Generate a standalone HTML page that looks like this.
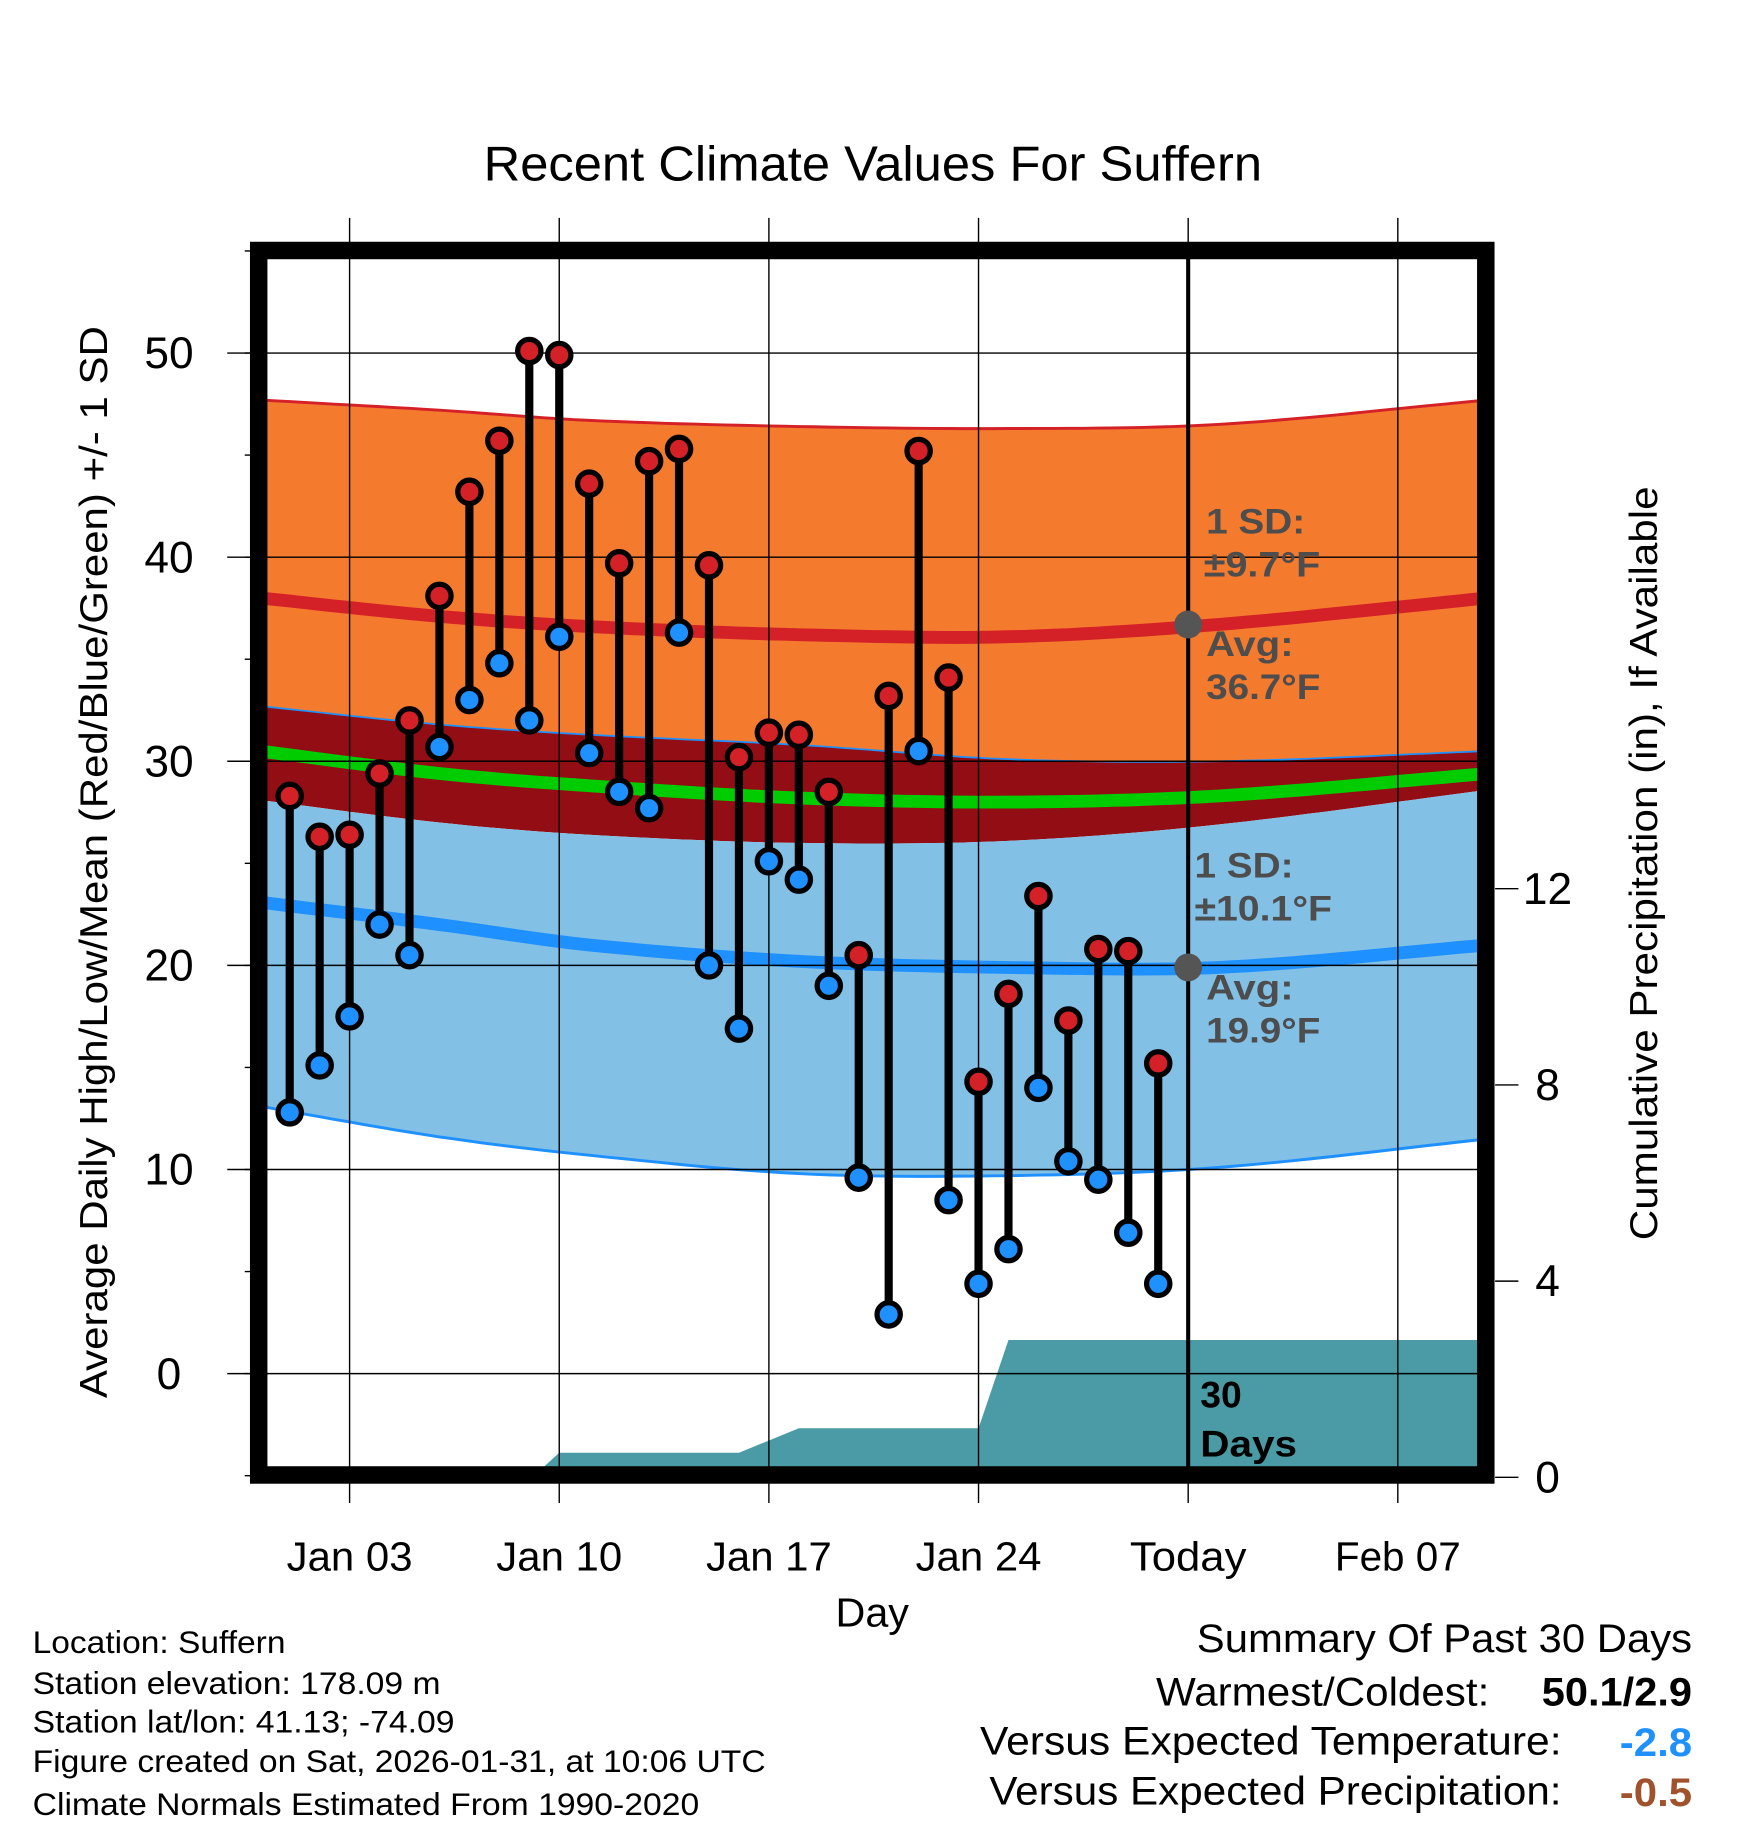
<!DOCTYPE html>
<html><head><meta charset="utf-8"><style>
html,body{margin:0;padding:0;background:#fff;}
svg{display:block;font-family:"Liberation Sans",sans-serif;}
</style></head><body>
<svg id="chart" width="1748" height="1828" viewBox="0 0 1500 1569" preserveAspectRatio="none" xmlns="http://www.w3.org/2000/svg">
<g id="plot"></g>
</svg>
<script>
const days = [0,1,2,3,4,5,6,7,8,9,10,11,12,13,14,15,16,17,18,19,20,21,22,23,24,25,26,27,28,29];
const highs = [28.3,26.3,26.4,29.4,32.0,38.1,43.2,45.7,50.1,49.9,43.6,39.7,44.7,45.3,39.6,30.2,31.4,31.3,28.5,20.5,33.2,45.2,34.1,14.3,18.6,23.4,17.3,20.8,20.7,15.2];
const lows = [12.8,15.1,17.5,22.0,20.5,30.7,33.0,34.8,32.0,36.1,30.4,28.5,27.7,36.3,20.0,16.9,25.1,24.2,19.0,9.6,2.9,30.5,8.5,4.4,6.1,14.0,10.4,9.5,6.9,4.4];
const normDays = [-1,5,10,17,24,31,40];
const highPlus = [47.7,47.2,46.7,46.4,46.3,46.5,47.7];
const highMean = [38.0,37.1,36.6,36.2,36.1,36.7,38.0];
const highMinus = [32.7,31.8,31.3,30.8,30.1,30.0,30.5];
const meanLine = [30.5,29.4,28.8,28.2,28.0,28.3,29.4];
const lowPlus = [28.1,27.0,26.4,26.0,26.1,26.9,28.6];
const lowMean = [23.1,22.0,21.0,20.2,19.9,19.9,21.0];
const lowMinus = [13.1,11.6,10.7,9.8,9.7,10.1,11.5];
const precipDays = [-1,8.1,9,15,17,23,24,40];
const precipVals = [0,0,0.5,0.5,1.0,1.0,2.8,2.8];
const xTickDays = [2,9,16,23,30,37];
const xTickLabels = ["Jan 03","Jan 10","Jan 17","Jan 24","Today","Feb 07"];
const yTicks = [0,10,20,30,40,50];
const precipTicks = [0,4,8,12];

const NS="http://www.w3.org/2000/svg";
const X = d => 248.6 + d*25.7;
const Y = v => 1179 - v*17.52;
const PY = p => 1268 - p*42.1;
const g = document.getElementById('plot');
function el(tag, attrs, parent){const e=document.createElementNS(NS,tag);for(const k in attrs)e.setAttribute(k,attrs[k]);(parent||g).appendChild(e);return e;}
function txt(s, attrs){const e=el('text',attrs);e.textContent=s;return e;}

// Catmull-Rom (non-uniform knots via slopes) interpolation
function interp(arr, d){
  const n=normDays.length;
  function slope(i){
    if(i===0) return (arr[1]-arr[0])/(normDays[1]-normDays[0]);
    if(i===n-1) return (arr[n-1]-arr[n-2])/(normDays[n-1]-normDays[n-2]);
    return (arr[i+1]-arr[i-1])/(normDays[i+1]-normDays[i-1]);
  }
  for(let i=0;i<n-1;i++){
    if(d>=normDays[i] && d<=normDays[i+1]){
      const h=normDays[i+1]-normDays[i], t=(d-normDays[i])/h;
      const t2=t*t,t3=t2*t;
      return (2*t3-3*t2+1)*arr[i]+(t3-2*t2+t)*h*slope(i)+(-2*t3+3*t2)*arr[i+1]+(t3-t2)*h*slope(i+1);
    }
  }
  return arr[n-1];
}
const sampleDays=[];for(let d=-1;d<=40.001;d+=0.5)sampleDays.push(d);

const defs=el('defs',{});
const cp=el('clipPath',{id:'clip'},defs);el('rect',{x:222,y:215,width:1053,height:1051},cp);
const inner=el('g',{'clip-path':'url(#clip)'});

function line(arr){return sampleDays.map(d=>X(d).toFixed(1)+','+Y(interp(arr,d)).toFixed(1)).join(' ');}
function band(a,b){return line(a)+' '+sampleDays.slice().reverse().map(d=>X(d).toFixed(1)+','+Y(interp(b,d)).toFixed(1)).join(' ');}

let e;
e=el('polygon',{points:band(highPlus,highMinus),fill:'#F47A2E'},inner);


e=el('polygon',{points:band(highMinus,lowPlus),fill:'#920D14'},inner);


e=el('polygon',{points:band(lowPlus,lowMinus),fill:'#82C0E6'},inner);


el('polyline',{points:line(highPlus),fill:'none',stroke:'#D42027','stroke-width':2.5},inner);
el('polyline',{points:line(highMinus),fill:'none',stroke:'#1E90FF','stroke-width':1.5},inner);
el('polyline',{points:line(lowMinus),fill:'none',stroke:'#1E90FF','stroke-width':2.5},inner);
e=el('polyline',{points:line(highMean),fill:'none',stroke:'#D42027','stroke-width':11},inner);


e=el('polyline',{points:line(meanLine),fill:'none',stroke:'#00CC00','stroke-width':11},inner);


e=el('polyline',{points:line(lowMean),fill:'none',stroke:'#1E90FF','stroke-width':11},inner);



let pts=precipDays.map((d,i)=>X(d)+','+PY(precipVals[i])).join(' ');
pts+=' '+X(40)+','+PY(0)+' '+X(-1)+','+PY(0);
e=el('polygon',{points:pts,fill:'#4A9BA5'},inner);



function T(s,a,name,len){const t=txt(s,a);if(len){t.setAttribute('textLength',len);t.setAttribute('lengthAdjust','spacingAndGlyphs');}return t;}

yTicks.forEach(v=>{el('line',{x1:195,x2:1275,y1:Y(v),y2:Y(v),stroke:'#000','stroke-width':1.2});
 T(String(v),{x:145,y:Y(v)+13,'font-size':38,'text-anchor':'middle'},'y-tick-label');});
for(let v=-5;v<=55;v+=5){el('line',{x1:210,x2:222,y1:Y(v),y2:Y(v),stroke:'#000','stroke-width':1.2});}
xTickDays.forEach((d,i)=>{el('line',{x1:X(d),x2:X(d),y1:187,y2:1290,stroke:'#000','stroke-width':1.2});
 T(xTickLabels[i],{x:X(d),y:1348,'font-size':35,'text-anchor':'middle'},'x-tick-label',xTickLabels[i]==="Today"?100:108);});
precipTicks.forEach(p=>{el('line',{x1:1283,x2:1303,y1:PY(p),y2:PY(p),stroke:'#000','stroke-width':1.2});
 T(String(p),{x:1328,y:PY(p)+13,'font-size':38,'text-anchor':'middle'},'precip-tick-label');});

e=el('line',{x1:X(30),x2:X(30),y1:222,y2:1262,stroke:'#000','stroke-width':3.5});



days.forEach((d,i)=>{
 el('line',{x1:X(d),x2:X(d),y1:Y(highs[i]),y2:Y(lows[i]),stroke:'#000','stroke-width':7});
 e=el('circle',{cx:X(d),cy:Y(highs[i]),r:10,fill:'#D42027',stroke:'#000','stroke-width':4.5});
 
 
 e=el('circle',{cx:X(d),cy:Y(lows[i]),r:10,fill:'#1E90FF',stroke:'#000','stroke-width':4.5});
 
 
});

el('circle',{cx:X(30),cy:Y(36.7),r:12,fill:'#555'});
el('circle',{cx:X(30),cy:Y(19.9),r:12,fill:'#555'});
const ann=[["1 SD:",1035,458,85],["±9.7°F",1033,495,100],["Avg:",1035,563,75],["36.7°F",1035,600,98],["1 SD:",1025,753,85],["±10.1°F",1025,790,118],["Avg:",1035,858,75],["19.9°F",1035,895,98]];
ann.forEach(a=>T(a[0],{x:a[1],y:a[2],'font-size':30,'font-weight':'bold',fill:'#4d4d4d'},'normal-annotation',a[3]));
T("30",{x:1030,y:1208,'font-size':32,'font-weight':'bold'},'days-label');
T("Days",{x:1030,y:1250,'font-size':32,'font-weight':'bold'},'days-label',83);

e=el('rect',{x:222,y:215,width:1053,height:1051,fill:'none',stroke:'#000','stroke-width':15});



T("Recent Climate Values For Suffern",{x:415,y:155,'font-size':42},'chart-title',668);
T("Day",{x:717,y:1396,'font-size':35},'x-axis-title',63);
T("Average Daily High/Low/Mean (Red/Blue/Green) +/- 1 SD",{x:0,y:0,'font-size':33,'text-anchor':'middle',transform:'translate(92,740) rotate(-90)'},'y-axis-title',920);
T("Cumulative Precipitation (in), If Available",{x:0,y:0,'font-size':33,'text-anchor':'middle',transform:'translate(1422,741) rotate(-90)'},'precip-axis-title',647);
const foot=["Location: Suffern","Station elevation: 178.09 m","Station lat/lon: 41.13; -74.09","Figure created on Sat, 2026-01-31, at 10:06 UTC","Climate Normals Estimated From 1990-2020"];
const footLen=[217,350,362,629,572];
const fy=[1419,1454,1487,1521,1558];
foot.forEach((s,i)=>T(s,{x:28,y:fy[i],'font-size':27},'footer-info',footLen[i]));
T("Summary Of Past 30 Days",{x:1027,y:1418,'font-size':34},'summary-title',425);
T("Warmest/Coldest:",{x:992,y:1464,'font-size':34},'summary-label',286);
T("50.1/2.9",{x:1323,y:1464,'font-size':34,'font-weight':'bold'},'warmest-coldest-value',129);
T("Versus Expected Temperature:",{x:841,y:1506,'font-size':34},'summary-label',499);
T("-2.8",{x:1390,y:1507,'font-size':34,'font-weight':'bold',fill:'#1E90FF'},'temp-departure-value',62);
T("Versus Expected Precipitation:",{x:849,y:1549,'font-size':34},'summary-label',491);
T("-0.5",{x:1390,y:1550,'font-size':34,'font-weight':'bold',fill:'#A0522D'},'precip-departure-value',62);
</script>
</body></html>
